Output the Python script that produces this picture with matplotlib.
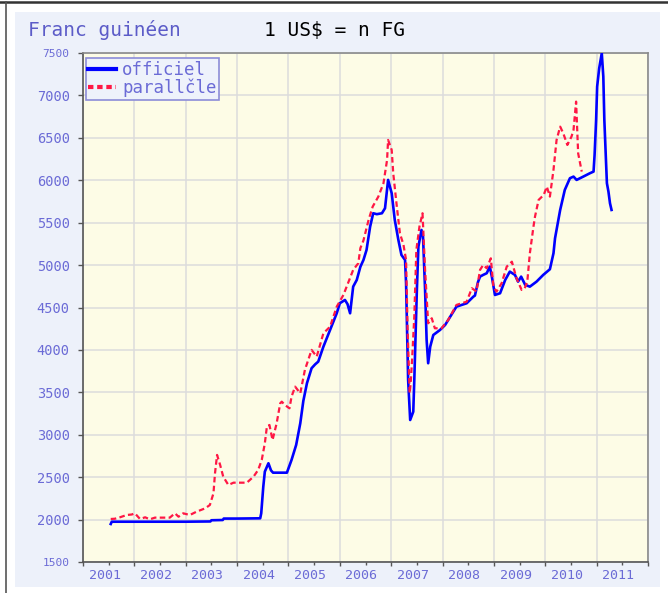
import numpy as np
import matplotlib
matplotlib.use('Agg')
import matplotlib.pyplot as plt
from matplotlib.lines import Line2D
from matplotlib.patches import Rectangle
from matplotlib.transforms import ScaledTranslation

# taux officiel (annee decimale, FG pour 1 US$)
off_t = [2001.54, 2001.56, 2002.50, 2003.00, 2003.48, 2003.50, 2003.72, 2003.74, 2004.00, 2004.45,
         2004.47, 2004.51, 2004.54, 2004.61, 2004.66, 2004.70, 2004.97, 2005.06, 2005.15, 2005.23,
         2005.29, 2005.36, 2005.45, 2005.52, 2005.58, 2005.68, 2005.81, 2005.94, 2006.00, 2006.10,
         2006.15, 2006.20, 2006.26, 2006.33, 2006.40, 2006.46, 2006.52, 2006.59, 2006.65, 2006.72,
         2006.82, 2006.88, 2006.94, 2007.01, 2007.07, 2007.14, 2007.20, 2007.27, 2007.29, 2007.33,
         2007.37, 2007.43, 2007.45, 2007.50, 2007.53, 2007.59, 2007.62, 2007.66, 2007.69, 2007.72,
         2007.76, 2007.82, 2007.95, 2008.05, 2008.15, 2008.27, 2008.47, 2008.60, 2008.63, 2008.69,
         2008.73, 2008.79, 2008.86, 2008.92, 2008.96, 2009.02, 2009.12, 2009.22, 2009.31, 2009.41,
         2009.47, 2009.53, 2009.61, 2009.70, 2009.83, 2009.96, 2010.09, 2010.16, 2010.19, 2010.29,
         2010.38, 2010.48, 2010.55, 2010.61, 2010.74, 2010.87, 2010.94, 2010.96, 2010.99, 2011.01,
         2011.05, 2011.10, 2011.13, 2011.15, 2011.18, 2011.20, 2011.23, 2011.26, 2011.29]
off_v = [1948, 1975, 1975, 1975, 1978, 1992, 1995, 2012, 2012, 2015,
         2074, 2388, 2565, 2664, 2580, 2553, 2553, 2703, 2880, 3135,
         3400, 3607, 3784, 3830, 3862, 4038, 4235, 4432, 4550, 4589,
         4540, 4432, 4746, 4825, 4980, 5060, 5178, 5453, 5611, 5600,
         5611, 5670, 6004, 5847, 5532, 5296, 5119, 5060, 4786, 3646,
         3174, 3272, 3646, 4707, 5218, 5414, 5335, 4707, 4117, 3843,
         4038, 4176, 4235, 4294, 4392, 4510, 4550, 4628, 4640, 4800,
         4864, 4884, 4904, 4982, 4864, 4648, 4668, 4825, 4923, 4884,
         4805, 4864, 4766, 4746, 4805, 4884, 4951, 5140, 5316, 5650,
         5886, 6024, 6043, 6004, 6043, 6083, 6102, 6298, 6711, 7104,
         7321, 7498, 7222, 6711, 6259, 5965, 5866, 5729, 5650]

# taux parallele
par_t = [2001.54, 2001.62, 2001.72, 2001.85, 2001.95, 2002.01, 2002.11, 2002.21, 2002.30, 2002.40,
         2002.69, 2002.79, 2002.86, 2002.95, 2003.08, 2003.21, 2003.38, 2003.47, 2003.54, 2003.57,
         2003.61, 2003.67, 2003.73, 2003.83, 2003.93, 2004.19, 2004.32, 2004.41, 2004.48, 2004.54,
         2004.58, 2004.63, 2004.69, 2004.77, 2004.84, 2004.87, 2004.93, 2005.02, 2005.06, 2005.13,
         2005.19, 2005.23, 2005.32, 2005.45, 2005.55, 2005.68, 2005.81, 2005.94, 2006.07, 2006.26,
         2006.36, 2006.40, 2006.46, 2006.56, 2006.64, 2006.75, 2006.85, 2006.92, 2006.94, 2007.01,
         2007.04, 2007.11, 2007.17, 2007.24, 2007.29, 2007.32, 2007.36, 2007.38, 2007.41, 2007.45,
         2007.49, 2007.55, 2007.61, 2007.66, 2007.72, 2007.79, 2007.85, 2007.98, 2008.11, 2008.27,
         2008.47, 2008.57, 2008.66, 2008.73, 2008.79, 2008.86, 2008.94, 2008.99, 2009.05, 2009.15,
         2009.25, 2009.35, 2009.44, 2009.54, 2009.60, 2009.65, 2009.70, 2009.77, 2009.80, 2009.87,
         2009.97, 2010.03, 2010.09, 2010.16, 2010.22, 2010.29, 2010.35, 2010.43, 2010.51, 2010.55,
         2010.60, 2010.64, 2010.71]
par_v = [2007, 2010, 2027, 2054, 2060, 2074, 2007, 2027, 2003, 2023,
         2023, 2074, 2034, 2074, 2054, 2093, 2133, 2172, 2310, 2546,
         2762, 2644, 2506, 2408, 2435, 2435, 2506, 2585, 2703, 2899,
         3095, 3115, 2938, 3135, 3371, 3390, 3351, 3312, 3449, 3567,
         3520, 3489, 3764, 4000, 3921, 4196, 4274, 4510, 4648, 4943,
         5022, 5200, 5290, 5532, 5689, 5807, 5965, 6239, 6475, 6357,
         6082, 5689, 5375, 5237, 5060, 4235, 3489, 3607, 3921, 4392,
         5178, 5453, 5611, 4943, 4314, 4373, 4255, 4255, 4353, 4530,
         4569, 4727, 4690, 4943, 5001, 4963, 5080, 4746, 4687, 4786,
         4982, 5040, 4845, 4707, 4727, 4805, 5140, 5453, 5571, 5768,
         5827, 5925, 5807, 6122, 6475, 6632, 6554, 6416, 6514, 6593,
         6927, 6318, 6102]

years = list(range(2001, 2013))
year_labels = [str(y) for y in range(2001, 2012)]
y_ticks = list(range(1500, 8000, 500))

LBL = '#6b6bd6'
W, H = 668, 593
plt.rcParams['font.family'] = 'DejaVu Sans Mono'

fig = plt.figure(figsize=(W / 100, H / 100), dpi=100, facecolor='white')
# fond du cadre
fig.add_artist(Rectangle((15 / W, 1 - 587 / H), (660 - 15) / W, (587 - 12) / H,
                         transform=fig.transFigure, facecolor='#edf1fa', edgecolor='none', zorder=-5))
fig.add_artist(Line2D([0, 1], [1 - 1.5 / H] * 2, transform=fig.transFigure, color='#333333', lw=1.8))
fig.add_artist(Line2D([6 / W] * 2, [0, 1 - 2 / H], transform=fig.transFigure, color='#555555', lw=1.2))

fig.text(28 / W, 1 - 36 / H, 'Franc guinéen', color='#5c5cc8', fontsize=14, va='baseline')
fig.text(264 / W, 1 - 36 / H, '1 US$ = n FG', color='black', fontsize=14, va='baseline')

ax = fig.add_axes([83 / W, 1 - 562 / H, 565 / W, 509 / H])
ax.set_facecolor('#fdfce6')

ax.plot(off_t, off_v, color='#0000ff', lw=1.9, label='officiel', zorder=3)
ax.plot(par_t, par_v, color='#ff1744', lw=1.6, dashes=(2.5, 1.5), label='parallčle', zorder=4)

ax.set_xlim(2001, 2012)
ax.set_ylim(1500, 7500)

ax.set_xticks(years)
ax.set_xticklabels([''] * len(years))
ax.set_xticks([y + 0.5 for y in range(2001, 2012)], minor=True)
ax.set_xticklabels(year_labels, minor=True)
ax.set_yticks(y_ticks, labels=[str(v) for v in y_ticks])

ax.tick_params(axis='x', which='major', length=3, width=1, color='#555555')
ax.tick_params(axis='x', which='minor', length=1.8, width=1, color='#555555',
               labelsize=9.5, labelcolor=LBL, pad=3.2)
ax.tick_params(axis='y', length=3.6, width=1, color='#555555', labelsize=9.8, labelcolor=LBL, pad=6)

off = ScaledTranslation(-4 / 100, 0, fig.dpi_scale_trans)
for lbl in ax.get_xticklabels(minor=True):
    lbl.set_transform(lbl.get_transform() + off)
for lbl in ax.get_yticklabels():
    if lbl.get_text() in ('7500', '1500'):
        lbl.set_fontsize(8)

ax.grid(True, which='major', color='#dcdcdc', lw=1.1)
ax.set_axisbelow(True)
for s in ['left', 'bottom']:
    ax.spines[s].set_color('#555555')
    ax.spines[s].set_linewidth(1.2)
for s in ['top', 'right']:
    ax.spines[s].set_color('#8a8a8a')
    ax.spines[s].set_linewidth(1.2)

leg = ax.legend(loc='upper left', bbox_to_anchor=(0.005, 0.99), borderaxespad=0,
                fancybox=False, framealpha=1, facecolor='#eef2fb', edgecolor='#8c8cd8',
                fontsize=12.5, labelcolor=LBL, handlelength=1.6, handletextpad=0.35,
                labelspacing=0.0, borderpad=0.15)
leg.get_frame().set_linewidth(1.2)
leg.get_lines()[0].set_linewidth(3)
leg.get_lines()[1].set_linewidth(3)
leg.get_lines()[1].set_dashes((1.3, 0.9))

fig.savefig('out.png', dpi=100, facecolor='white')
